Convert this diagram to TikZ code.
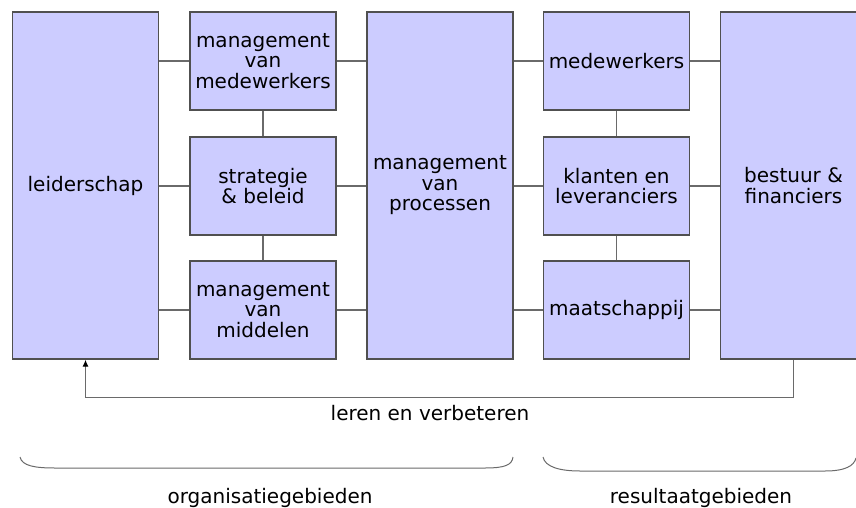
\documentclass[tikz,border=0pt]{standalone}
\usepackage{fontspec}
\setmainfont{DejaVu Sans}
\usetikzlibrary{arrows.meta}
\definecolor{boxfill}{HTML}{CCCCFF}
\definecolor{boxline}{HTML}{505050}
\definecolor{linkline}{HTML}{6A6A6A}

\begin{document}
\begin{tikzpicture}[x=1pt,y=-1pt,font=\fontsize{20}{20.5}\selectfont,
    area/.style={draw=boxline, fill=boxfill, line width=1.3pt, align=center, inner sep=1pt, minimum width=146pt, minimum height=98pt},
    tall/.style={area, minimum height=347pt},
    link/.style={draw=linkline, line width=1.3pt}]
        \useasboundingbox (0,0) rectangle (856,508);
        \clip (0,0) rectangle (856,508);
        % Boxes, column by column
        \node[tall] (lead) at (85.5,185.5) {leiderschap};
        \node[area] (mvm) at (263,61) {management\\van\\medewerkers};
        \node[area] (strat) at (263,186) {strategie\\\& beleid};
        \node[area] (mid) at (263,310) {management\\van\\middelen};
        \node[tall] (proc) at (440,185.5) {management\\van\\processen};
        \node[area] (med) at (616.5,61) {medewerkers};
        \node[area] (klant) at (616.5,186) {klanten en\\leveranciers};
        \node[area] (maat) at (616.5,310) {maatschappij};
        \node[tall] (best) at (793.5,185.5) {bestuur \&\\financiers};
        % Links between columns
        \foreach \s in {mvm,strat,mid} {
            \draw[link] (lead.east |- \s) -- (\s.west);
            \draw[link] (\s.east) -- (proc.west |- \s);
        }
        \foreach \s in {med,klant,maat} {
            \draw[link] (proc.east |- \s) -- (\s.west);
            \draw[link] (\s.east) -- (best.west |- \s);
        }
        \draw[link] (mvm) -- (strat);
        \draw[link] (strat) -- (mid);
        \draw[link] (med) -- (klant);
        \draw[link] (klant) -- (maat);
        % Feedback loop
        \draw[link, -{Latex[length=7pt,width=6pt,black]}] (best.south) -- ++(0,38) -| (lead.south);
        \node (leren) at (430,413) {leren en verbeteren};
        % Braces underneath
        \draw[link, line width=1pt] (20,457) .. controls (22,466) and (35,468) .. (55,468) -- (485,468) .. controls (505,468) and (512,465) .. (513,457);
        \draw[link, line width=1pt] (543,457) .. controls (545,467) and (560,471) .. (580,471) -- (825,471) .. controls (845,471) and (854,466) .. (856,458);
        \node (org) at (270,498) {organisatiegebieden};
        \node (res) at (701,498) {resultaatgebieden};
    \end{tikzpicture}
\end{document}
